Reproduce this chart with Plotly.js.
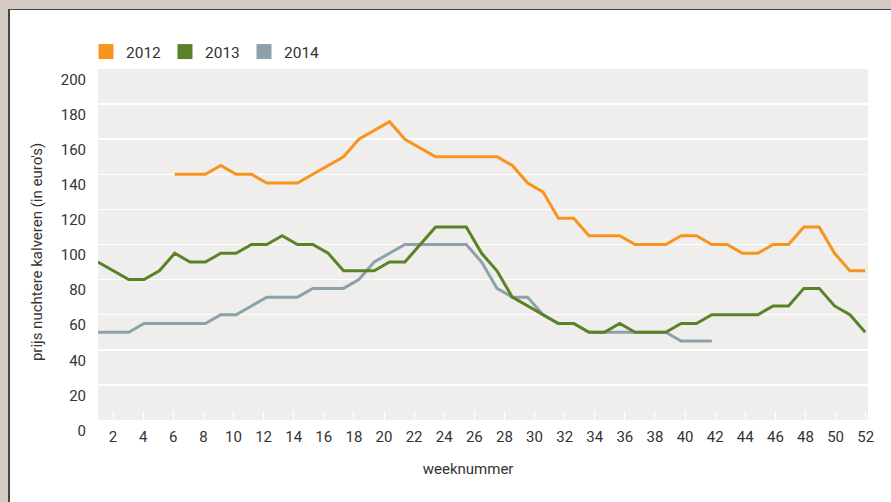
<!DOCTYPE html>
<html>
<head>
<meta charset="utf-8">
<script src="https://cdn.plot.ly/plotly-3.0.1.min.js"></script>
<style>
  html, body { margin:0; padding:0; width:891px; height:502px; overflow:hidden; background:#d4c9c3; }
  #panel { position:absolute; left:8px; top:9px; width:900px; height:520px; background:#ffffff;
           border-left:2px solid #444444; border-top:1.5px solid #444444; }
  #chart { position:absolute; left:0; top:0; width:891px; height:502px; }
</style>
</head>
<body>
<div id="panel"></div>
<div id="chart"></div>
<script>
// Data points as drawn (51 evenly spaced points across the plot width)
const points = [1,2,3,4,5,6,7,8,9,10,11,12,13,14,15,16,17,18,19,20,21,22,23,24,25,26,27,28,29,30,
                31,32,33,34,35,36,37,38,39,40,41,42,43,44,45,46,47,48,49,50,51];
// Axis week labels
const weekTicks = [2,4,6,8,10,12,14,16,18,20,22,24,26,28,30,32,34,36,38,40,42,44,46,48,50,52];
const weekLabels = ['2','4','6','8','10','12','14','16','18','20','22','24','26','28','30','32','34','36','38','40','42','44','46','48','50','52'];
const years = ['2012','2013','2014'];
const colors = ['#f7941d','#5a8227','#8da1ad'];

const price2012 = [null,null,null,null,null,140,140,140,145,140,140,135,135,135,140,145,150,160,165,170,
                   160,155,150,150,150,150,150,145,135,130,115,115,105,105,105,100,100,100,105,105,
                   100,100,95,95,100,100,110,110,95,85,85];
const price2013 = [90,85,80,80,85,95,90,90,95,95,100,100,105,100,100,95,85,85,85,90,
                   90,100,110,110,110,95,85,70,65,60,55,55,50,50,55,50,50,50,55,55,
                   60,60,60,60,65,65,75,75,65,60,50];
const price2014 = [50,50,50,55,55,55,55,55,60,60,65,70,70,70,75,75,75,80,90,95,
                   100,100,100,100,100,90,75,70,70,60,55,55,50,50,50,50,50,50,45,45,
                   45,null,null,null,null,null,null,null,null,null,null];

const series = [price2012, price2013, price2014];
const FONT = 'Roboto, "Liberation Sans", sans-serif';
const TXT = '#333333';
const pad = n => '<span style="color:rgba(0,0,0,0)">' + 'x'.repeat(n) + '</span>';

const traces = [];
// line traces (drawn 2014 first, 2012 last)
[2,1,0].forEach(i => {
  traces.push({
    type:'scatter', mode:'lines', x: points, y: series[i], xaxis:'x2', yaxis:'y',
    name: years[i], showlegend:false, connectgaps:false,
    line:{color: colors[i], width:3}, hoverinfo:'skip'
  });
});
// legend entries (square swatches)
[0,1,2].forEach(i => {
  traces.push({
    type:'scatter', mode:'markers', x:[null], y:[null], xaxis:'x', yaxis:'y',
    name: years[i], showlegend:true,
    marker:{symbol:'square', size:15, color: colors[i]}
  });
});

const layout = {
  width:891, height:502,
  paper_bgcolor:'rgba(0,0,0,0)',
  plot_bgcolor:'#efeeec',
  margin:{l:98, r:23, t:69, b:82, pad:0},
  font:{family:FONT, color:TXT, size:15},
  showlegend:true,
  legend:{orientation:'h', x:-0.0156, xanchor:'left', y:1, yanchor:'bottom',
          font:{family:FONT, size:15.5, color:TXT},
          bgcolor:'rgba(0,0,0,0)', itemclick:false, itemdoubleclick:false,
          entrywidth:34, entrywidthmode:'pixels'},
  xaxis:{
    range:[1,52.15], tickmode:'array', tickvals:weekTicks, ticktext:weekLabels,
    ticks:'inside', ticklen:9, tickwidth:1, tickcolor:'#ffffff',
    showgrid:false, zeroline:false, showline:false, fixedrange:true,
    ticklabelstandoff:6,
    tickfont:{family:FONT, size:15, color:TXT},
    title:{text:'weeknummer' + pad(4), font:{family:FONT, size:15, color:TXT}, standoff:18},
    automargin:false
  },
  xaxis2:{
    range:[1,51.18], overlaying:'x', visible:false, fixedrange:true
  },
  yaxis:{
    range:[0,200], dtick:20, tick0:0,
    showgrid:true, gridcolor:'#ffffff', gridwidth:1.5,
    zeroline:false, showline:false, ticks:'',
    ticklabelposition:'outside bottom', ticklabelstandoff:11,
    tickfont:{family:FONT, size:15, color:TXT},
    title:{text:'prijs nuchtere kalveren (in euro\'s)' + pad(2), font:{family:FONT, size:15, color:TXT}, standoff:14},
    automargin:false, fixedrange:true
  }
};

Plotly.newPlot('chart', traces, layout, {displayModeBar:false, staticPlot:true});
</script>
</body>
</html>
